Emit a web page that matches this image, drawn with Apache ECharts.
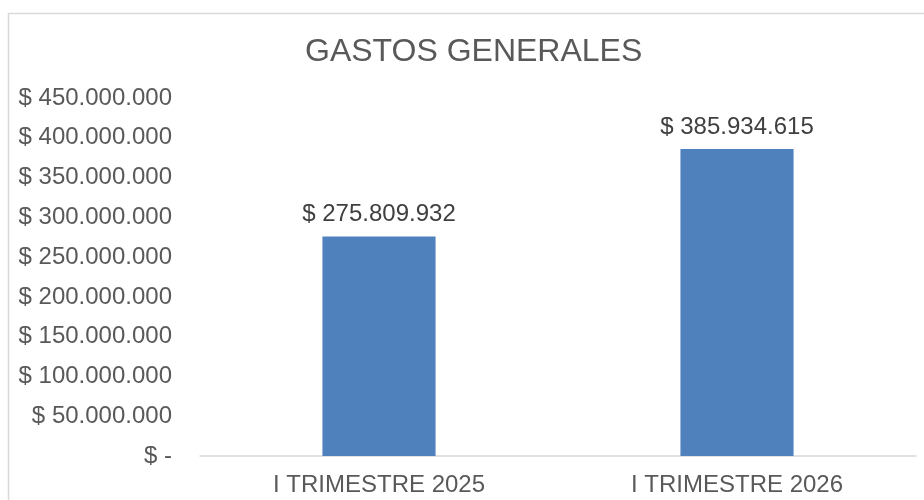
<!DOCTYPE html>
<html lang="es">
<head>
    <meta charset="UTF-8">
    <title>Gastos generales</title>
    <script src="https://cdn.jsdelivr.net/npm/echarts@6/dist/echarts.min.js"></script>
    <style>
        body { margin: 0; background: #fff; }
    </style>
</head>
<body>
    <div id="main" style="width: 924px;height:500px;"></div>
    <script type="text/javascript">
        const categories = ['I TRIMESTRE 2025', 'I TRIMESTRE 2026']
        const values = [275809932, 385934615]
        const yMax = 450000000
        const yStep = 50000000

        // formato moneda con puntos de miles
        function money(v) {
            if (v === 0) return '$ -'
            return '$ ' + String(Math.round(v)).replace(/\B(?=(\d{3})+(?!\d))/g, '.')
        }

        var myChart = echarts.init(document.getElementById('main'));
        var font = 'Liberation Sans, Arial, sans-serif'

        var option = {
            animation: false,
            graphic: [
                {   // borde del gráfico
                    type: 'rect',
                    shape: { x: 8.5, y: 13.5, width: 1000, height: 1000 },
                    style: { fill: 'none', stroke: '#d9d9d9', lineWidth: 1.5 }
                }
            ],
            title: {
                text: 'GASTOS GENERALES',
                left: 300,
                top: 31,
                textStyle: { color: '#595959', fontSize: 32, fontWeight: 'normal', fontFamily: font }
            },
            grid: { left: 200, right: 8, top: 98, bottom: 44 },
            xAxis: {
                type: 'category',
                data: categories,
                axisLine: { lineStyle: { color: '#d9d9d9', width: 1.5 } },
                axisTick: { show: false },
                axisLabel: { color: '#595959', fontSize: 24, fontFamily: font, margin: 17 }
            },
            yAxis: {
                type: 'value',
                min: 0,
                max: yMax,
                interval: yStep,
                splitLine: { show: false },
                axisLine: { show: false },
                axisTick: { show: false },
                axisLabel: {
                    color: '#595959', fontSize: 24, fontFamily: font, margin: 28,
                    formatter: money
                }
            },
            series: [{
                type: 'bar',
                data: values,
                barWidth: '31.6%',
                itemStyle: { color: '#4f81bd' },
                label: {
                    show: true,
                    position: 'top',
                    distance: 10,
                    color: '#404040',
                    fontSize: 24,
                    fontFamily: font,
                    formatter: p => money(p.value)
                }
            }]
        };

        myChart.setOption(option);
    </script>
</body>
</html>
